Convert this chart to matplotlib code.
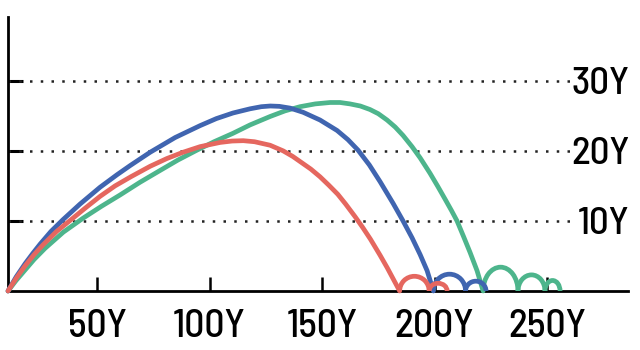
import matplotlib
matplotlib.use("Agg")
import matplotlib.pyplot as plt
from matplotlib.patches import Arc

plt.rcParams['font.family'] = ['Barlow Semi Condensed', 'Barlow Condensed', 'Liberation Sans', 'DejaVu Sans']

# main flight of each curve (x, y)
red_x = [10.4, 14.0, 18.0, 22.0, 26.0, 32.0, 38.9, 45.0, 51.3, 58.0, 65.0, 73.6, 81.0,
         88.2, 95.8, 104.7, 110.0, 115.0, 120.0, 126.9, 132.7, 137.0, 141.0, 145.0,
         149.1, 153.0, 157.0, 160.5, 164.7, 168.0, 171.5, 175.8, 179.0, 182.0, 184.5]
red_y = [0, 1.8, 3.6, 5.2, 6.6, 8.5, 10.3, 11.9, 13.5, 15.0, 16.3, 17.8, 18.9,
         19.8, 20.6, 21.2, 21.4, 21.45, 21.3, 20.8, 20.0, 19.2, 18.3, 17.4,
         16.3, 15.1, 13.8, 12.4, 10.6, 9.1, 7.4, 5.1, 3.3, 1.5, 0]

blue_x = [10.4, 14.0, 18.0, 21.5, 24.7, 29.5, 34.9, 42.4, 51.3, 58.9, 64.7, 73.6, 84.7,
          95.8, 103.0, 110.4, 118.0, 123.0, 127.0, 131.0, 135.8, 141.6, 149.1, 156.7,
          161.5, 166.0, 171.0, 175.8, 181.6, 186.0, 190.0, 193.6, 196.7, 199.5]
blue_y = [0, 2.0, 3.9, 5.4, 6.7, 8.5, 10.2, 12.4, 14.8, 16.6, 17.9, 19.8, 21.9,
          23.6, 24.6, 25.4, 26.0, 26.3, 26.4, 26.35, 26.1, 25.5, 24.4, 22.9,
          21.6, 20.1, 18.0, 15.6, 12.5, 10.0, 7.6, 5.2, 2.9, 0]

green_x = [10.4, 14.0, 18.0, 22.0, 26.9, 35.0, 43.8, 52.0, 60.2, 69.0, 78.0, 86.0, 94.4,
           102.0, 110.4, 118.0, 126.9, 133.5, 140.2, 147.0, 153.6, 158.0, 162.4, 167.0,
           171.3, 175.0, 178.9, 182.5, 186.0, 190.0, 193.6, 198.0, 201.5, 204.7, 207.5,
           210.0, 213.0, 215.8, 218.9, 221.6]
green_y = [0, 1.5, 3.0, 4.5, 6.1, 8.4, 10.4, 12.1, 13.7, 15.5, 17.2, 18.7, 20.1,
           21.3, 22.5, 23.7, 24.9, 25.7, 26.3, 26.7, 26.9, 26.9, 26.7, 26.4,
           25.9, 25.3, 24.4, 23.4, 22.2, 20.6, 19.0, 16.8, 14.9, 13.1, 11.5,
           10.0, 7.7, 5.5, 2.9, 0]

# bounces: landing points and hop heights
red_hops_x = [184.5, 197.6, 205.6]
red_hops_h = [2.1, 1.1]
blue_hops_x = [199.5, 213.8, 222.9]
blue_hops_h = [2.4, 1.4]
green_hops_x = [221.6, 237.1, 249.1, 255.8]
green_hops_h = [3.4, 2.3, 1.5]

x_ticks = [50, 100, 150, 200, 250]
x_labels = ['50Y', '100Y', '150Y', '200Y', '250Y']
y_grid = [10, 20, 30]
y_labels = ['10Y', '20Y', '30Y']

red = '#e5675f'
blue = '#4065b0'
green = '#4db58c'

fig = plt.figure(figsize=(6.4, 3.5), dpi=100)
ax = fig.add_axes([8 / 640, 1 - 291 / 350, 620 / 640, 274 / 350])
ax.set_xlim(10.4, 286)
ax.set_ylim(0, 39.1)

ax.hlines(y_grid, 10.4, 260, colors='#222222', linestyles=(0, (1, 3.3)), lw=1.8)
for v, lab in zip(y_grid, y_labels):
    ax.text(1.003, v, lab, transform=ax.get_yaxis_transform(), ha='right',
            va='center_baseline', fontsize=28, fontweight='medium', color='black')

series = [(green_x, green_y, green_hops_x, green_hops_h, green),
          (blue_x, blue_y, blue_hops_x, blue_hops_h, blue),
          (red_x, red_y, red_hops_x, red_hops_h, red)]
for xs, ys, hx, hh, c in series:
    ax.plot(xs, ys, color=c, lw=3.4, solid_capstyle='round',
            solid_joinstyle='round', clip_on=False, zorder=3)
    for a, b, h in zip(hx[:-1], hx[1:], hh):
        ax.add_patch(Arc(((a + b) / 2, 0), b - a, 2 * h, theta1=0, theta2=180,
                         color=c, lw=3.4, zorder=3))

for s in ['top', 'right']:
    ax.spines[s].set_visible(False)
for s in ['left', 'bottom']:
    ax.spines[s].set_linewidth(2)
    ax.spines[s].set_color('black')

ax.set_xticks(x_ticks)
ax.set_xticklabels(x_labels, fontweight='medium')
ax.tick_params(axis='x', direction='in', length=10, width=1.8, pad=13, labelsize=28.5)
ax.set_yticks(y_grid)
ax.set_yticklabels([])
ax.tick_params(axis='y', direction='in', length=11, width=2.2)

fig.savefig('out.png', dpi=100)
